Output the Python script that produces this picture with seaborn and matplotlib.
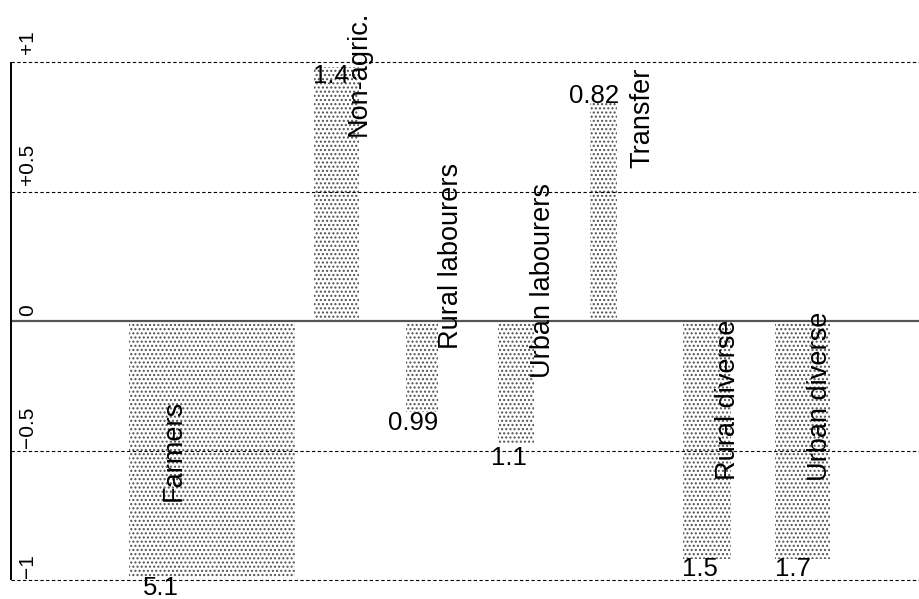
import matplotlib
matplotlib.use("Agg")
import matplotlib.pyplot as plt
import numpy as np
import pandas as pd
import seaborn as sns

# Occupational groups, their Pearson residuals (bar heights) and
# the cell sizes shown as bar widths.
categories = ["Farmers", "Non-agric.", "Rural labourers", "Urban labourers",
              "Transfer", "Rural diverse", "Urban diverse"]
residuals = [-0.99, 0.98, -0.35, -0.47, 0.85, -0.92, -0.92]
widths = [5.1, 1.4, 0.99, 1.1, 0.82, 1.5, 1.7]
width_labels = ["5.1", "1.4", "0.99", "1.1", "0.82", "1.5", "1.7"]
y_ticks = [1, 0.5, 0, -0.5, -1]
y_tick_labels = ["+1", "+0.5", "0", "\u22120.5", "\u22121"]

# ---- layout -------------------------------------------------------------
slots = np.array([0, 2, 3, 4, 5, 6, 7])
first_left, slot_step = 3.62, 2.83
lefts = first_left + slot_step * slots

name_dx = [1.38, 1.38, 1.38, 1.38, 1.60, 1.38, 1.38]
name_y = [-0.50, 0.957, 0.25, 0.158, 0.784, -0.305, -0.29]
num_dx = [0.98, 0.54, 0.22, 0.32, 0.11, 0.53, 0.56]
num_base = [-1.058, 0.919, -0.421, -0.556, 0.842, -0.985, -0.985]
tick_gap = [0.032, 0.024, 0.020, 0.008, 0.008]

sns.set_theme(style="white")
plt.rcParams["font.family"] = ["Liberation Sans", "DejaVu Sans"]
plt.rcParams["hatch.linewidth"] = 1.0

fig = plt.figure(figsize=(9.2, 5.99), dpi=100)
ax = fig.add_axes([11 / 920, 19 / 599, 909 / 920, 518 / 599])

df = pd.DataFrame({"pos": lefts + np.array(widths) / 2,
                   "residual": residuals})
sns.barplot(data=df, x="pos", y="residual", native_scale=True,
            errorbar=None, color="white", ax=ax, zorder=1)

# give each bar its own width, left-aligned on its slot
for p in ax.patches:
    cx = p.get_x() + p.get_width() / 2
    i = int(np.argmin(np.abs(df["pos"].to_numpy() - cx)))
    p.set_x(lefts[i])
    p.set_width(widths[i])
    p.set_facecolor("white")
    p.set_edgecolor("#505050")
    p.set_linewidth(0)
    p.set_hatch("....")

ax.set_xlim(0, 909 / 32.6)
ax.set_ylim(-1, 1)
ax.set_xlabel("")
ax.set_ylabel("")
ax.set_xticks([])
ax.set_yticks([])
for side in ["top", "right", "bottom", "left"]:
    ax.spines[side].set_visible(False)

# reference lines
for v in [1, 0.5, -0.5, -1]:
    ax.axhline(v, color="black", lw=0.8, ls=(0, (3, 2.2)), zorder=3,
               clip_on=False)
ax.axhline(0, color="#555555", lw=1.6, zorder=3, clip_on=False)
ax.plot([0, 0], [-1, 1], color="black", lw=1.4, zorder=4, clip_on=False,
        solid_capstyle="butt")

# scale labels along the left edge
for v, lab, g in zip(y_ticks, y_tick_labels, tick_gap):
    ax.text(0.67, v + g, lab, rotation=90, rotation_mode="anchor",
            ha="left", va="baseline", fontsize=15, color="black",
            clip_on=False)

# group names beside each bar
for i, name in enumerate(categories):
    ax.text(lefts[i] + name_dx[i], name_y[i], name, rotation=90,
            ha="center", va="center", fontsize=19.5, color="black",
            zorder=5)

# cell sizes at the end of each bar
for i, lab in enumerate(width_labels):
    ax.text(lefts[i] + num_dx[i], num_base[i], lab, ha="center",
            va="baseline", fontsize=18.5, color="black", zorder=5,
            clip_on=False)

fig.savefig("out.png", dpi=100)
